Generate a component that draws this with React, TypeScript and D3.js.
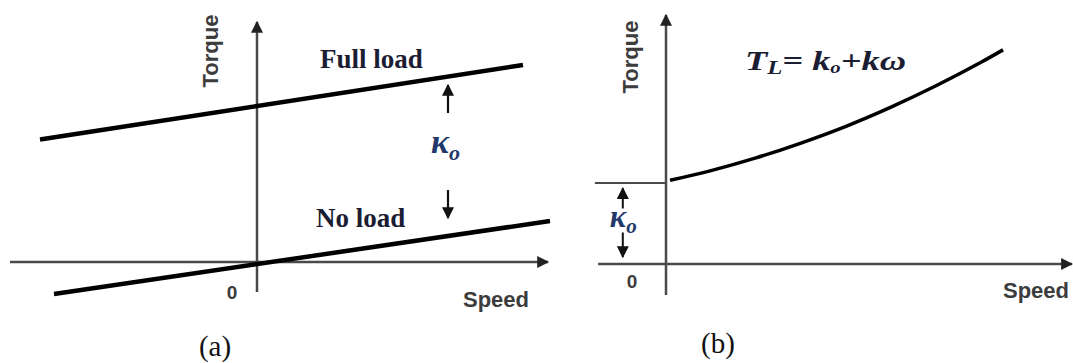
import React from "react";
import * as d3 from "d3";

const width = 1073;
const height = 363;

// ---- panel (a): speed/torque in chart units ----
const axisASpeed = [-4.94, 5.82];
const axisATorque = [-1.2, 9.6];
const fullLoadSpeed = [-4.34, 5.32];
const fullLoadTorque = [4.9, 7.88];
const noLoadSpeed = [-4.06, 5.86];
const noLoadTorque = [-1.28, 1.64];
const koArrowASpeed = 3.82;
const koArrowAUp = [5.96, 7.08];
const koArrowADown = [2.88, 1.76];
const koLabelATorque = 4.6;

// ---- panel (b) ----
const axisBSpeed = [-1.51, 9.02];
const axisBTorque = [-1.15, 9.22];
const koLevel = 3;
const koLineStart = -1.58;
const curveSpeed = [0.09, 1, 2, 3, 4, 5, 6, 7, 7.49];
const curveTorque = [3.1, 3.46, 3.93, 4.48, 5.1, 5.81, 6.6, 7.47, 7.93];
const koArrowBSpeed = -0.96;
const koArrowBUp = [2.0, 2.81];
const koArrowBDown = [1.19, 0.26];
const koLabelBTorque = 1.5;

const navy = "#1b1d33";
const gray = "#3c3c3c";
const axisColor = "#4a4a4a";

const App = () => {
  const xA = d3.scaleLinear().domain([0, 1]).range([257, 307]);
  const yA = d3.scaleLinear().domain([0, 1]).range([262, 237]);
  const xB = d3.scaleLinear().domain([0, 1]).range([666, 711]);
  const yB = d3.scaleLinear().domain([0, 1]).range([264, 237]);

  const lineA = d3
    .line<[number, number]>()
    .x((d) => xA(d[0]))
    .y((d) => yA(d[1]));

  const fullLoad = lineA(fullLoadSpeed.map((s, i) => [s, fullLoadTorque[i]]));
  const noLoad = lineA(noLoadSpeed.map((s, i) => [s, noLoadTorque[i]]));

  const curveB = d3
    .line<[number, number]>()
    .x((d) => xB(d[0]))
    .y((d) => yB(d[1]))
    .curve(d3.curveMonotoneX)(curveSpeed.map((s, i) => [s, curveTorque[i]]));

  const sansBold = { fontFamily: "'Liberation Sans', Arial, sans-serif", fontWeight: 700 };
  const serifBold = { fontFamily: "'Liberation Serif', 'Times New Roman', serif", fontWeight: 700 };

  return (
    <svg
      width={width}
      height={height}
      style={{ position: "absolute", left: 0, top: 0, background: "#fff" }}
    >
      <defs>
        <marker id="axisHead" viewBox="0 0 10 10" refX="9" refY="5"
          markerUnits="userSpaceOnUse" markerWidth="15" markerHeight="12" orient="auto">
          <path d="M0,0 L10,5 L0,10 z" fill="#222" />
        </marker>
        <marker id="smallHead" viewBox="0 0 10 10" refX="9" refY="5"
          markerUnits="userSpaceOnUse" markerWidth="13" markerHeight="12" orient="auto">
          <path d="M0,0 L10,5 L0,10 z" fill="#111" />
        </marker>
      </defs>

      {/* ---------- panel (a) ---------- */}
      <line x1={xA(axisASpeed[0])} x2={xA(axisASpeed[1])} y1={yA(0)} y2={yA(0)}
        stroke={axisColor} strokeWidth={2.5} markerEnd="url(#axisHead)" />
      <line x1={xA(0)} x2={xA(0)} y1={yA(axisATorque[0])} y2={yA(axisATorque[1])}
        stroke={axisColor} strokeWidth={2.5} markerEnd="url(#axisHead)" />
      <path d={fullLoad || ""} stroke="#000" strokeWidth={4.5} fill="none" />
      <path d={noLoad || ""} stroke="#000" strokeWidth={4.5} fill="none" />

      <line x1={xA(koArrowASpeed)} x2={xA(koArrowASpeed)}
        y1={yA(koArrowAUp[0])} y2={yA(koArrowAUp[1])}
        stroke="#111" strokeWidth={2.2} markerEnd="url(#smallHead)" />
      <line x1={xA(koArrowASpeed)} x2={xA(koArrowASpeed)}
        y1={yA(koArrowADown[0])} y2={yA(koArrowADown[1])}
        stroke="#111" strokeWidth={2.2} markerEnd="url(#smallHead)" />
      <text x={xA(koArrowASpeed) - 17} y={yA(koLabelATorque) + 6}
        style={{ ...serifBold, fontStyle: "italic" }} fill="#22386a">
        <tspan fontSize={34}>κ</tspan>
        <tspan fontSize={22} dy={7}>o</tspan>
      </text>

      <text x={320} y={68} fontSize={27} style={serifBold} fill={navy}>Full load</text>
      <text x={316} y={227} fontSize={27} style={serifBold} fill={navy}>No load</text>

      <text transform={`translate(218,51) rotate(-90)`} textAnchor="middle"
        fontSize={22} style={sansBold} fill={gray}>Torque</text>
      <text x={232} y={299} textAnchor="middle" fontSize={19} style={sansBold} fill={gray}>0</text>
      <text x={463} y={307} fontSize={22} style={sansBold} fill={gray}>Speed</text>
      <text x={215} y={356} textAnchor="middle" fontSize={29}
        fontFamily="'Liberation Serif', 'Times New Roman', serif" fill="#111">(a)</text>

      {/* ---------- panel (b) ---------- */}
      <line x1={xB(axisBSpeed[0])} x2={xB(axisBSpeed[1])} y1={yB(0)} y2={yB(0)}
        stroke={axisColor} strokeWidth={2.5} markerEnd="url(#axisHead)" />
      <line x1={xB(0)} x2={xB(0)} y1={yB(axisBTorque[0])} y2={yB(axisBTorque[1])}
        stroke={axisColor} strokeWidth={2.5} markerEnd="url(#axisHead)" />
      <line x1={xB(koLineStart)} x2={xB(0)} y1={yB(koLevel)} y2={yB(koLevel)}
        stroke={axisColor} strokeWidth={2} />
      <path d={curveB || ""} stroke="#000" strokeWidth={3.5} fill="none" />

      <line x1={xB(koArrowBSpeed)} x2={xB(koArrowBSpeed)}
        y1={yB(koArrowBUp[0])} y2={yB(koArrowBUp[1])}
        stroke="#111" strokeWidth={2} markerEnd="url(#smallHead)" />
      <line x1={xB(koArrowBSpeed)} x2={xB(koArrowBSpeed)}
        y1={yB(koArrowBDown[0])} y2={yB(koArrowBDown[1])}
        stroke="#111" strokeWidth={2} markerEnd="url(#smallHead)" />
      <rect x={xB(koArrowBSpeed) - 13} y={yB(koLabelBTorque) - 15} width={38} height={24} fill="#fff" />
      <text x={xB(koArrowBSpeed) - 13} y={yB(koLabelBTorque) + 3}
        style={{ ...serifBold, fontStyle: "italic" }} fill="#22386a">
        <tspan fontSize={31}>κ</tspan>
        <tspan fontSize={21} dy={6}>o</tspan>
      </text>

      <text transform="translate(745,70) scale(1.3,1)"
        style={{ ...serifBold, fontStyle: "italic" }} fill={navy}>
        <tspan fontSize={28}>T</tspan>
        <tspan fontSize={19} dy={4}>L</tspan>
        <tspan fontSize={28} dy={-4}>= k</tspan>
        <tspan fontSize={16} dy={3}>o</tspan>
        <tspan fontSize={28} dy={-3}>+kω</tspan>
      </text>

      <text transform={`translate(638,57) rotate(-90)`} textAnchor="middle"
        fontSize={22} style={sansBold} fill={gray}>Torque</text>
      <text x={632} y={288} textAnchor="middle" fontSize={19} style={sansBold} fill={gray}>0</text>
      <text x={1003} y={298} fontSize={22} style={sansBold} fill={gray}>Speed</text>
      <text x={718} y={353} textAnchor="middle" fontSize={29}
        fontFamily="'Liberation Serif', 'Times New Roman', serif" fill="#111">(b)</text>
    </svg>
  );
};

export default App;
